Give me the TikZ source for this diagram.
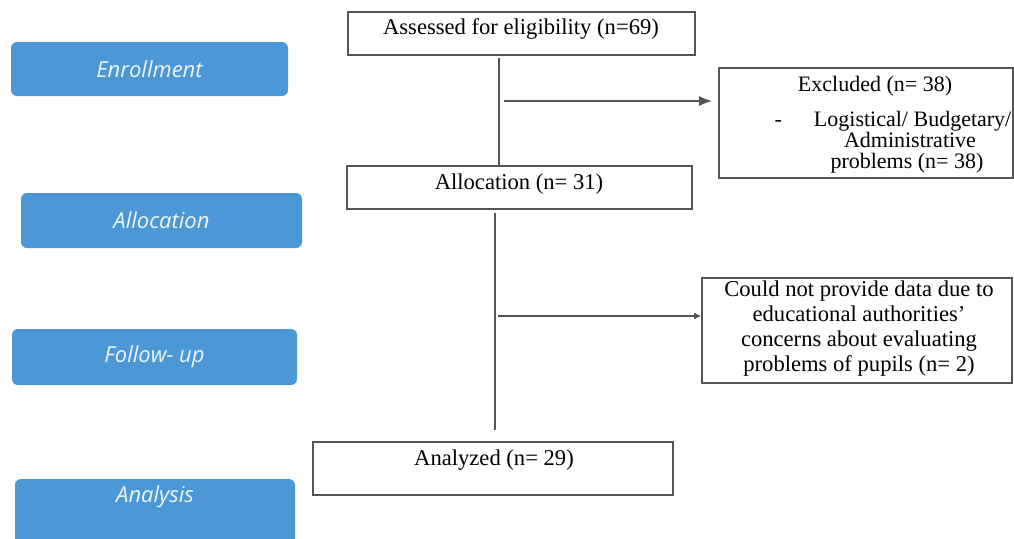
\documentclass[tikz,border=0pt]{standalone}
\usepackage{fontspec}
\setmainfont{Liberation Serif}
\newfontfamily\flowsans{Open Sans}
\usetikzlibrary{fit,arrows.meta}
\definecolor{stageblue}{RGB}{76,152,214}
\definecolor{framegray}{RGB}{85,85,85}
\tikzset{
 stage/.style={fill=stageblue, draw=none, rounded corners=3pt, inner sep=0pt},
 stagetext/.style={text=white!90!stageblue, font=\flowsans\itshape\fontsize{11}{13}\selectfont},
 flowbox/.style={draw=framegray, line width=0.8pt, inner sep=0pt},
 flowtext/.style={font=\fontsize{11.3}{12.5}\selectfont, align=center, inner sep=0pt},
 link/.style={draw=framegray, line width=0.8pt},
 linkarrow/.style={link, -{Latex[length=6.5pt,width=5pt]}}
}
\begin{document}
\begin{tikzpicture}[x=0.5pt, y=-0.5pt]
 \clip (0,0) rectangle (1014,538);
 \fill[white] (0,0) rectangle (1014,538);
 % stages on the left
 \node[stage, fit={(11,42) (288,96)}] (enroll) {};
 \node[stagetext] (enrolltxt) at (enroll.center) {Enrollment};
 \node[stage, fit={(21,193) (302,248)}] (allocst) {};
 \node[stagetext] (allocsttxt) at (allocst.center) {Allocation};
 \node[stage, fit={(12,329) (297,385)}] (follow) {};
 \node[stagetext] (followtxt) at (follow.center) {Follow- up};
 \node[stage, fit={(15,479) (295,560)}] (analysis) {};
 \node[stagetext] (analysistxt) at (155,497) {Analysis};
 % flow boxes
 \node[flowbox, fit={(348,12) (695,55)}] (assess) {};
 \node[flowtext] (assesstxt) at (521,29) {Assessed for eligibility (n=69)};
 \node[flowbox, fit={(347,166) (692,209)}] (alloc) {};
 \node[flowtext] (alloctxt) at (519,184) {Allocation (n= 31)};
 \node[flowbox, fit={(719,68) (1013,178)}] (excl) {};
 \node[flowtext, font=\fontsize{11}{10.5}\selectfont] (excltxt) at (893,125)
  {Excluded (n= 38)\hspace*{18pt}\\[7pt]
   -\hspace{16pt}Logistical/ Budgetary/\\
   \hspace*{17pt}Administrative\\
   \hspace*{14pt}problems (n= 38)};
 \node[flowbox, fit={(702,278) (1012,383)}] (could) {};
 \node[flowtext] (couldtxt) at (859,329)
  {Could not provide data due to\\ educational authorities'\\
   concerns about evaluating\\ problems of pupils (n= 2)};
 \node[flowbox, fit={(313,442) (673,495)}] (analyzed) {};
 \node[flowtext] (analyzedtxt) at (494,460) {Analyzed (n= 29)};
 % connectors
 \coordinate (top1) at (499,58);
 \coordinate (split1) at (504,101);
 \coordinate (top2) at (495,213);
 \coordinate (bot2) at (495,430);
 \coordinate (split2) at (498,316);
 \draw[link] (top1) -- (top1 |- alloc.north);
 \draw[linkarrow, shorten >=3pt] (split1) -- (split1 -| excl.west);
 \draw[link] (top2) -- (bot2);
 \draw[linkarrow, -{Latex[length=3.5pt,width=3.5pt]}] (split2) -- (split2 -| could.west);
\end{tikzpicture}
\end{document}
